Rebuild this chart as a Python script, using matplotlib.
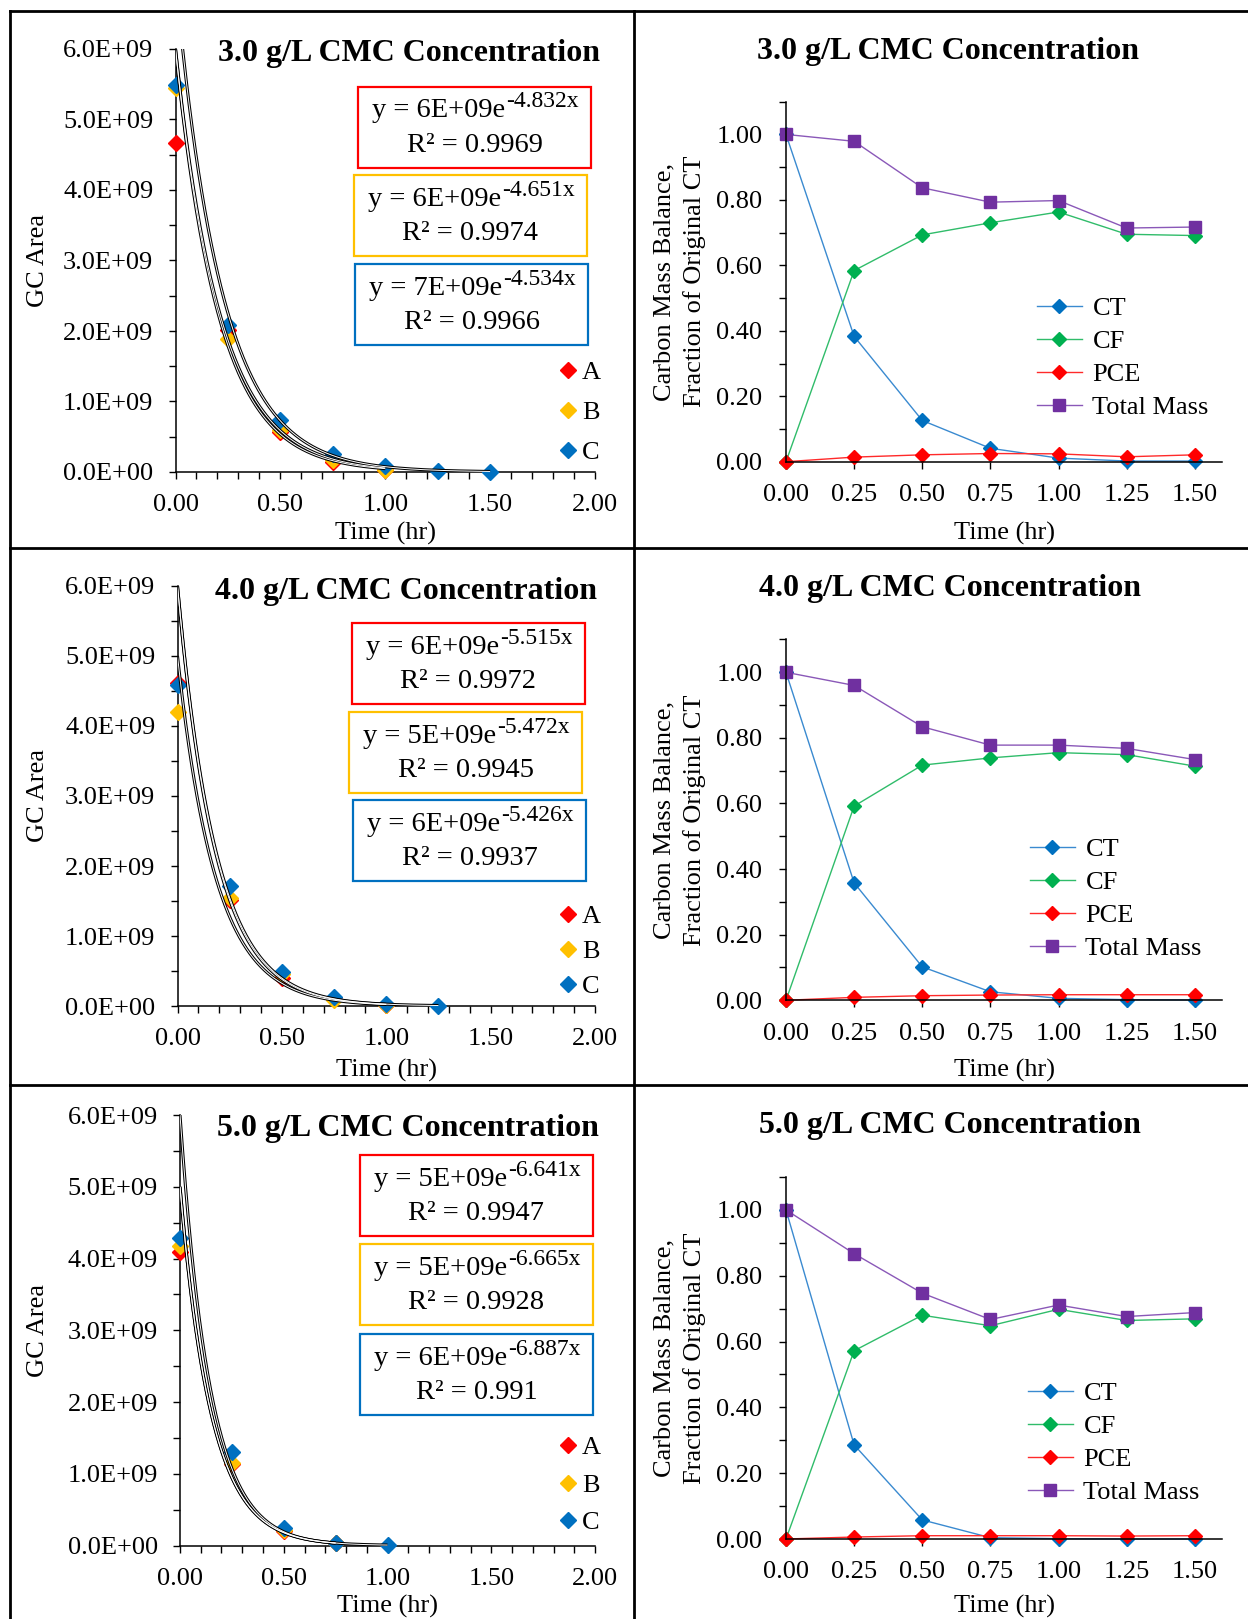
import matplotlib

matplotlib.use("Agg")
import matplotlib.pyplot as plt
import numpy as np
from matplotlib.lines import Line2D
from matplotlib.patches import Rectangle
from matplotlib.ticker import FixedLocator, FormatStrFormatter, MultipleLocator

plt.rcParams["font.family"] = ["Liberation Serif", "DejaVu Serif"]
plt.rcParams["axes.unicode_minus"] = False

W, H = 1248, 1619

# --- GC area decay (x1e9), replicate reactors A/B/C ---
t_gc = [0.0, 0.25, 0.50, 0.75, 1.00, 1.25, 1.50]
gc30_A = [4.67, 2.02, 0.57, 0.14, 0.03]
gc30_B = [5.45, 1.88, 0.60, 0.17, 0.03]
gc30_C = [5.49, 2.08, 0.74, 0.26, 0.085, 0.012, 0.002]
gc40_A = [4.62, 1.52, 0.40, 0.10, 0.02]
gc40_B = [4.20, 1.54, 0.45, 0.09, 0.01]
gc40_C = [4.58, 1.71, 0.49, 0.125, 0.025, 0.005]
gc50_A = [4.09, 1.13, 0.20, 0.03]
gc50_B = [4.17, 1.15, 0.22, 0.03]
gc50_C = [4.28, 1.30, 0.25, 0.04, 0.004]

# exponential trendlines: (coefficient, rate, R^2)
fit30 = [(6e9, 4.832, 0.9969), (6e9, 4.651, 0.9974), (7e9, 4.534, 0.9966)]
fit40 = [(6e9, 5.515, 0.9972), (5e9, 5.472, 0.9945), (6e9, 5.426, 0.9937)]
fit50 = [(5e9, 6.641, 0.9947), (5e9, 6.665, 0.9928), (6e9, 6.887, 0.991)]

# --- carbon mass balance, fraction of original CT ---
t_mb = [0.0, 0.25, 0.50, 0.75, 1.00, 1.25, 1.50]
ct_30 = [1.00, 0.383, 0.126, 0.041, 0.011, 0.002, 0.002]
cf_30 = [0.00, 0.584, 0.693, 0.730, 0.763, 0.695, 0.691]
pce_30 = [0.00, 0.014, 0.021, 0.025, 0.024, 0.015, 0.021]
tot_30 = [1.00, 0.979, 0.837, 0.793, 0.798, 0.714, 0.717]
ct_40 = [1.00, 0.358, 0.102, 0.026, 0.006, 0.002, 0.001]
cf_40 = [0.00, 0.592, 0.717, 0.739, 0.755, 0.749, 0.714]
pce_40 = [0.00, 0.009, 0.014, 0.016, 0.017, 0.017, 0.017]
tot_40 = [1.00, 0.960, 0.834, 0.778, 0.778, 0.768, 0.734]
ct_50 = [1.00, 0.286, 0.058, 0.004, 0.001, 0.000, 0.000]
cf_50 = [0.00, 0.572, 0.680, 0.648, 0.698, 0.664, 0.669]
pce_50 = [0.00, 0.006, 0.010, 0.010, 0.010, 0.009, 0.010]
tot_50 = [1.00, 0.867, 0.747, 0.667, 0.711, 0.676, 0.688]

titles = ["3.0 g/L CMC Concentration", "4.0 g/L CMC Concentration",
          "5.0 g/L CMC Concentration"]
rep_labels = ["A", "B", "C"]
rep_colors = ["#FF0000", "#FFC000", "#0070C0"]
mb_labels = ["CT", "CF", "PCE", "Total Mass"]
mb_colors = ["#0070C0", "#00B050", "#FF0000", "#7030A0"]
mb_line_colors = ["#3A8AD0", "#30BC6A", "#FF2A2A", "#8A58B8"]

FS = 19  # tick / label / legend size


def fx(x):
    return x / W


def fy(y):
    return 1 - y / H


def add_axes(fig, l, t, r, b):
    return fig.add_axes([fx(l), fy(b), (r - l) / W, (b - t) / H])


def style(ax):
    for s in ("top", "right"):
        ax.spines[s].set_visible(False)
    for s in ("left", "bottom"):
        ax.spines[s].set_linewidth(1.1)
    ax.tick_params(which="both", direction="out", length=5, width=1.0,
                   labelsize=FS, colors="black")


fig = plt.figure(figsize=(W / 100, H / 100), dpi=100)
renderer = fig.canvas.get_renderer()

# panel rectangles in pixels (left, top, right, bottom)
gc_rects = [(175.5, 49, 595, 472), (177.5, 586, 595, 1006), (180, 1115, 595, 1545.5)]
mb_rects = [(786, 101.7, 1222, 461.7), (786, 639.5, 1222, 1000.3), (786, 1177, 1222, 1539)]
gc_title_pos = [(409, 53.5), (406, 591.5), (408, 1128)]
mb_title_pos = [(948, 51.5), (950, 588.5), (950, 1125)]
box_pos = [
    [(358, 86.7), (354, 175.5), (355, 264)],
    [(352, 623.5), (349, 712), (353, 800)],
    [(360, 1155), (360, 1244), (360, 1334)],
]
gc_leg_pos = [(557, 361), (557, 905), (557, 1436)]
gc_leg_spacing = [0.62, 0.43, 0.53]
mb_leg_pos = [(1037, 297), (1030, 838), (1028, 1382)]
xlab_y = [533, 1070.5, 1606]

gc_sets = [(gc30_A, gc30_B, gc30_C), (gc40_A, gc40_B, gc40_C), (gc50_A, gc50_B, gc50_C)]
fits = [fit30, fit40, fit50]
mb_sets = [(ct_30, cf_30, pce_30, tot_30), (ct_40, cf_40, pce_40, tot_40),
           (ct_50, cf_50, pce_50, tot_50)]


def equation_box(bx, by, a, k, r2, col):
    bw, bh = 233, 81
    fig.add_artist(Rectangle((fx(bx), fy(by + bh)), bw / W, bh / H,
                             transform=fig.transFigure, fill=False,
                             edgecolor=col, lw=1.6))
    cx = bx + bw / 2
    # base text and raised exponent, centred together in the box
    base = fig.text(0, 0, f"y = {a:.0E}e", fontsize=20.5, ha="left", va="baseline")
    sup = fig.text(0, 0, f"-{k:.3f}x", fontsize=17, ha="left", va="baseline")
    wb = base.get_window_extent(renderer).width
    ws = sup.get_window_extent(renderer).width
    x0 = cx - (wb + ws) / 2
    base_y = by + 0.26 * bh + 9.5
    base.set_position((fx(x0), fy(base_y)))
    sup.set_position((fx(x0 + wb + 1), fy(base_y - 10)))
    fig.text(fx(cx), fy(by + 0.72 * bh), f"R\u00b2 = {r2:g}",
             ha="center", va="center", fontsize=20.5)


for i in range(3):
    # ---------- GC area panel ----------
    ax = add_axes(fig, *gc_rects[i])
    style(ax)
    handles = []
    for vals, lab, col in zip(gc_sets[i], rep_labels, rep_colors):
        tt = t_gc[:len(vals)]
        h, = ax.plot(tt, np.array(vals) * 1e9, "D", color=col, ms=7.8,
                     mec=col, clip_on=False, zorder=3, label=lab)
        handles.append(h)
    for vals, (a, k, r2) in zip(gc_sets[i], fits[i]):
        xs = np.linspace(0, t_gc[len(vals) - 1], 300)
        ys = a * np.exp(-k * xs)
        ax.plot(xs, ys, color="black", lw=2.2, zorder=4, solid_capstyle="butt")
        ax.plot(xs, ys, color="white", lw=0.7, zorder=5, solid_capstyle="butt")
    ax.set_xlim(0, 2.0)
    ax.set_ylim(0, 6e9)
    ax.xaxis.set_major_locator(MultipleLocator(0.5))
    ax.xaxis.set_minor_locator(MultipleLocator(0.1))
    ax.xaxis.set_major_formatter(FormatStrFormatter("%.2f"))
    ax.yaxis.set_major_locator(MultipleLocator(1e9))
    ax.yaxis.set_minor_locator(MultipleLocator(0.5e9))
    ax.yaxis.set_major_formatter(FormatStrFormatter("%.1E"))
    ax.tick_params(axis="y", pad=11)
    ax.tick_params(axis="x", pad=11)
    l, t, r, b = gc_rects[i]
    ax.set_xlabel("Time (hr)", fontsize=FS, va="center")
    ax.xaxis.set_label_coords(0.5, (b - xlab_y[i]) / (b - t))
    ax.set_ylabel("GC Area", fontsize=FS, va="center")
    ax.yaxis.set_label_coords((38 - l) / (r - l), 0.5)

    fig.text(fx(gc_title_pos[i][0]), fy(gc_title_pos[i][1]), titles[i],
             ha="center", va="center", fontsize=23, fontweight="bold")

    for (bx, by), (a, k, r2), col in zip(box_pos[i], fits[i], rep_colors):
        equation_box(bx, by, a, k, r2, col)

    lx, ly = gc_leg_pos[i]
    ax.legend(handles=handles, loc="upper left", bbox_to_anchor=(fx(lx), fy(ly)),
              bbox_transform=fig.transFigure, frameon=False, fontsize=FS,
              handlelength=0.8, handletextpad=0.15, labelspacing=gc_leg_spacing[i],
              borderpad=0, borderaxespad=0)

    # ---------- mass balance panel ----------
    ax = add_axes(fig, *mb_rects[i])
    style(ax)
    handles = []
    for vals, lab, col, lcol in zip(mb_sets[i], mb_labels, mb_colors, mb_line_colors):
        mk = "s" if lab == "Total Mass" else "D"
        ms = 9.2 if lab == "Total Mass" else 6.7
        h, = ax.plot(t_mb, vals, "-", color=lcol, lw=1.0, marker=mk, ms=ms,
                     mfc=col, mec=col, clip_on=False, label=lab)
        handles.append(h)
    ax.set_xlim(0, 1.6)
    ax.set_ylim(0, 1.1)
    ax.xaxis.set_major_locator(FixedLocator(t_mb))
    ax.xaxis.set_major_formatter(FormatStrFormatter("%.2f"))
    ax.yaxis.set_major_locator(MultipleLocator(0.2))
    ax.yaxis.set_minor_locator(FixedLocator(np.arange(0.1, 1.15, 0.2)))
    ax.yaxis.set_major_formatter(FormatStrFormatter("%.2f"))
    ax.tick_params(axis="y", pad=12)
    ax.tick_params(axis="x", pad=11)
    l, t, r, b = mb_rects[i]
    ax.set_xlabel("Time (hr)", fontsize=FS, va="center")
    ax.xaxis.set_label_coords(0.5, (b - xlab_y[i]) / (b - t))
    ax.set_ylabel("Carbon Mass Balance,\nFraction of Original CT", fontsize=FS,
                  va="center", linespacing=1.4)
    ax.yaxis.set_label_coords((680 - l) / (r - l), 0.5)

    fig.text(fx(mb_title_pos[i][0]), fy(mb_title_pos[i][1]), titles[i],
             ha="center", va="center", fontsize=23, fontweight="bold")

    lx, ly = mb_leg_pos[i]
    ax.legend(handles=handles, loc="upper left", bbox_to_anchor=(fx(lx), fy(ly)),
              bbox_transform=fig.transFigure, frameon=False, fontsize=FS,
              handlelength=1.7, handletextpad=0.4, labelspacing=0.36,
              borderpad=0, borderaxespad=0)

# panel grid lines
grid = [((10, 10), (11, H)), ((10, W), (11, 11)), ((634, 634), (11, H)),
        ((10, W), (548, 548)), ((10, W), (1085, 1085))]
for xs, ys in grid:
    fig.add_artist(Line2D([fx(x) for x in xs], [fy(y) for y in ys],
                          transform=fig.transFigure, color="black", lw=2.0))

fig.savefig("out.png", dpi=100)
